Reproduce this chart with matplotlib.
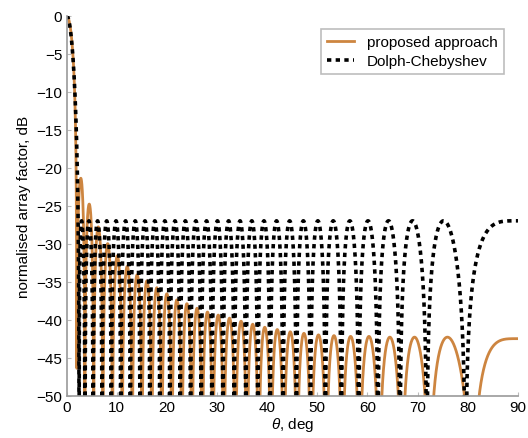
import numpy as np
import matplotlib
matplotlib.use("Agg")
import matplotlib.pyplot as plt

plt.rcParams['font.family'] = ['Liberation Sans', 'DejaVu Sans']
plt.rcParams['mathtext.fontset'] = 'custom'
plt.rcParams['mathtext.it'] = 'Liberation Sans:italic'

# Dolph-Chebyshev array: element count and sidelobe level
N_ELEMENTS = 61
CHEB_SLL_DB = -27.0

# proposed approach: dip / null angles (deg) and lobe peak levels (dB)
prop_nulls = [2.03, 3.65, 5.4, 7.25, 9.15, 11.1, 13.1, 15.05, 17.0, 19.0,
              21.0, 23.0, 25.0, 27.05, 29.15, 31.35, 33.65, 35.95, 38.3, 40.75,
              43.3, 45.95, 48.75, 51.75, 54.95, 58.4, 62.3, 66.8, 72.3, 80.9]
prop_peaks = [-21.4, -24.8, -27.8, -30.0, -31.6, -33.0, -34.1, -34.9, -35.8, -36.6,
              -37.4, -37.9, -38.5, -39.0, -39.4, -39.8, -40.2, -40.6, -41.0, -41.3,
              -41.6, -41.8, -42.0, -42.1, -42.2, -42.2, -42.3, -42.3, -42.3, -42.5]
first_dip_db = -46.4

theta = np.linspace(0, 90, 30000)
u = np.sin(np.radians(theta))

# Dolph-Chebyshev array factor
R = 10 ** (-CHEB_SLL_DB / 20)
x0 = np.cosh(np.arccosh(R) / (N_ELEMENTS - 1))
T = np.polynomial.Chebyshev.basis(N_ELEMENTS - 1)
af_cheb = np.abs(T(x0 * np.cos(np.pi * u / 2))) / R
cheb_db = 20 * np.log10(np.maximum(af_cheb, 1e-12))

# proposed approach, lobe by lobe between the read nulls
un = np.sin(np.radians(prop_nulls))
af_prop = np.zeros_like(u)
m = u < un[0]
af_prop[m] = np.cos(np.pi * u[m] / (2 * un[0]))
edges = list(un) + [2 - un[-1]]
for i, pk in enumerate(prop_peaks):
    a, b = edges[i], edges[i + 1]
    m = (u >= a) & (u < b)
    af_prop[m] = 10 ** (pk / 20) * np.sin(np.pi * (u[m] - a) / (b - a))
m = u < 0.5 * (un[0] + un[1])
af_prop[m] = np.maximum(af_prop[m], 10 ** (first_dip_db / 20))
prop_db = 20 * np.log10(np.maximum(af_prop, 1e-12))

fig = plt.figure(figsize=(5.28, 4.39), dpi=100)
ax = fig.add_axes([0.126, 0.0964, 0.855, 0.866])

ax.plot(theta, prop_db, color='#CD8540', lw=2.0, label='proposed approach')
ax.plot(theta, cheb_db, color='black', lw=2.6, linestyle=(0, (1.2, 1.2)),
        label='Dolph-Chebyshev')

ax.set_xlim(0, 90)
ax.set_ylim(-50, 0)
ax.set_xticks(np.arange(0, 91, 10))
ax.set_yticks(np.arange(-50, 1, 5))
ax.set_yticklabels(['\u2212%d' % -v if v < 0 else '0' for v in range(-50, 1, 5)])

for s in ['top', 'right']:
    ax.spines[s].set_visible(False)
for s in ['left', 'bottom']:
    ax.spines[s].set_color('#9a9a9a')
    ax.spines[s].set_linewidth(1.2)
ax.tick_params(direction='in', length=3, color='#bbbbbb', labelsize=11, pad=3)

ax.set_xlabel(r'$\it{\theta}$, deg', fontsize=11, labelpad=1)
ax.set_ylabel('normalised array factor, dB', fontsize=11, labelpad=4)

leg = ax.legend(loc='upper right', bbox_to_anchor=(0.985, 0.985), fontsize=11,
                handlelength=1.8, handletextpad=0.8, borderpad=0.4,
                labelspacing=0.35, fancybox=False, framealpha=1)
leg.get_frame().set_edgecolor('#bdbdbd')
leg.get_frame().set_linewidth(1.2)

fig.savefig('out.png', dpi=100)
